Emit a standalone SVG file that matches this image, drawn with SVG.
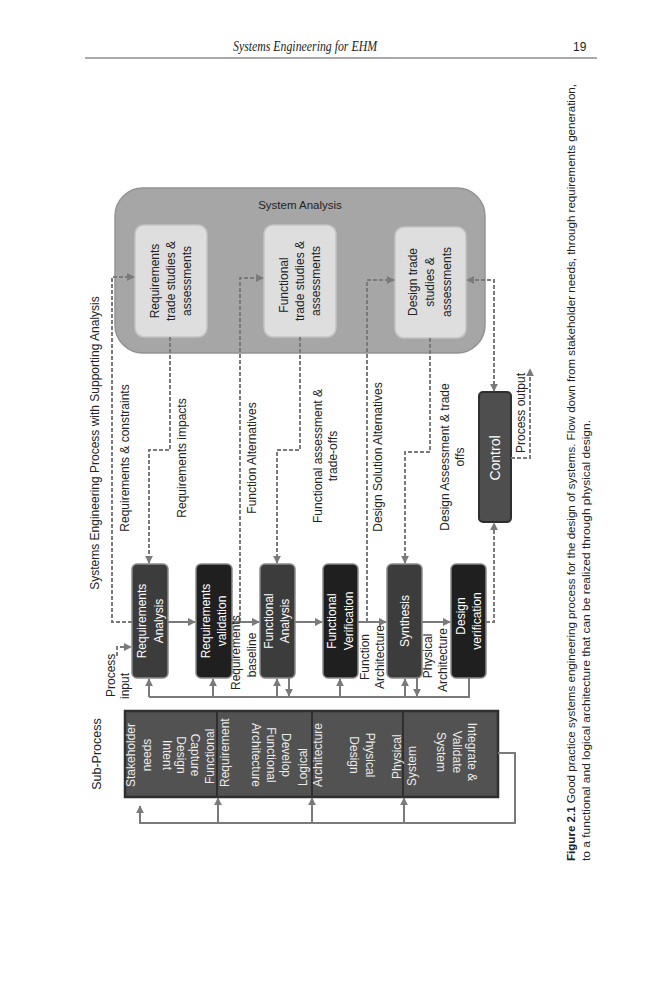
<svg xmlns="http://www.w3.org/2000/svg" width="666" height="1000" viewBox="0 0 666 1000">
<style>
.t{font-family:'Liberation Sans',Arial,sans-serif;font-size:12px;fill:#222;text-anchor:middle;dominant-baseline:central}
.s{text-anchor:start}
.w{fill:#fff}
.lt{fill:#ececec}
.dash{fill:none;stroke:#7a7a7a;stroke-width:2;stroke-dasharray:4 2}
.sol{fill:none;stroke:#7a7a7a;stroke-width:2}
.fb{stroke:#8a8a8a;stroke-width:1.5}
.ib{fill:#dedede;stroke:#c4c4c4;stroke-width:1.5}
</style>
<defs>
<marker id="ah" viewBox="0 0 10 10" refX="9" refY="5" markerWidth="8" markerHeight="8" markerUnits="userSpaceOnUse" orient="auto-start-reverse"><path d="M0,0 L10,5 L0,10 z" fill="#7a7a7a"/></marker>
</defs>
<rect width="666" height="1000" fill="#fff"/>

<g id="header">
<text x="233" y="51" font-family="'Liberation Serif',serif" font-style="italic" font-size="15" fill="#222" textLength="144" lengthAdjust="spacingAndGlyphs">Systems Engineering for EHM</text>
<text x="573" y="51" font-family="'Liberation Sans',sans-serif" font-size="12" fill="#222">19</text>
<line x1="85" y1="58" x2="597" y2="58" stroke="#555" stroke-width="1"/>
</g>

<g id="titles">
<text class="t" transform="rotate(-90 95 443)" x="95" y="443">Systems Engineering Process with Supporting Analysis</text>
<text class="t" transform="rotate(-90 97 754)" x="97" y="754" style="font-size:12.5px">Sub-Process</text>
</g>

<g id="system-analysis">
<rect x="115" y="188" width="370" height="165" rx="28" fill="#a6a6a6" stroke="#939393" stroke-width="1.5"/>
<text class="t" x="300" y="205" style="font-size:11.5px">System Analysis</text>
</g>

<g id="req-trade">
<rect class="ib" x="135" y="225" width="72" height="112" rx="9"/>
<text class="t" transform="rotate(-90 155 281)" x="155" y="281">Requirements</text>
<text class="t" transform="rotate(-90 171 281)" x="171" y="281">trade studies &amp;</text>
<text class="t" transform="rotate(-90 187 281)" x="187" y="281">assessments</text>
</g>
<g id="func-trade">
<rect class="ib" x="264" y="225" width="72" height="112" rx="9"/>
<text class="t" transform="rotate(-90 284 285)" x="284" y="285">Functional</text>
<text class="t" transform="rotate(-90 300 281)" x="300" y="281">trade studies &amp;</text>
<text class="t" transform="rotate(-90 316 281)" x="316" y="281">assessments</text>
</g>
<g id="design-trade">
<rect class="ib" x="395" y="227" width="71" height="111" rx="9"/>
<text class="t" transform="rotate(-90 413 282)" x="413" y="282">Design trade</text>
<text class="t" transform="rotate(-90 430 282)" x="430" y="282">studies &amp;</text>
<text class="t" transform="rotate(-90 447 282)" x="447" y="282">assessments</text>
</g>

<g id="control">
<rect x="479" y="392" width="32" height="130" rx="4" fill="#4e4e4e" stroke="#2e2e2e" stroke-width="2"/>
<text class="t w" transform="rotate(-90 495 458)" x="495" y="458" style="font-size:14px">Control</text>
</g>

<g id="req-analysis">
<rect class="fb" x="132" y="564" width="36" height="114" rx="5" fill="#3c3c3c"/>
<text class="t w" transform="rotate(-90 142 621)" x="142" y="621">Requirements</text>
<text class="t w" transform="rotate(-90 159 621)" x="159" y="621">Analysis</text>
</g>
<g id="req-validation">
<rect class="fb" x="196" y="564" width="36" height="114" rx="5" fill="#1f1f1f"/>
<text class="t w" transform="rotate(-90 206 621)" x="206" y="621">Requirements</text>
<text class="t w" transform="rotate(-90 222 621)" x="222" y="621">validation</text>
</g>
<g id="func-analysis">
<rect class="fb" x="260" y="564" width="35" height="114" rx="5" fill="#3c3c3c"/>
<text class="t w" transform="rotate(-90 269 621)" x="269" y="621">Functional</text>
<text class="t w" transform="rotate(-90 285 621)" x="285" y="621">Analysis</text>
</g>
<g id="func-verification">
<rect class="fb" x="323" y="564" width="35" height="114" rx="5" fill="#1f1f1f"/>
<text class="t w" transform="rotate(-90 332 621)" x="332" y="621">Functional</text>
<text class="t w" transform="rotate(-90 349 621)" x="349" y="621">Verification</text>
</g>
<g id="synthesis">
<rect class="fb" x="387" y="564" width="35" height="114" rx="5" fill="#3c3c3c"/>
<text class="t w" transform="rotate(-90 405 621)" x="405" y="621">Synthesis</text>
</g>
<g id="design-verification">
<rect class="fb" x="451" y="564" width="35" height="114" rx="5" fill="#1f1f1f"/>
<text class="t w" transform="rotate(-90 461 616)" x="461" y="616">Design</text>
<text class="t w" transform="rotate(-90 477 621)" x="477" y="621">verification</text>
</g>

<g id="sub-process">
<rect x="125" y="711" width="373" height="86" fill="#525252" stroke="#2f2f2f" stroke-width="2.5"/>
<line x1="217" y1="711" x2="217" y2="797" stroke="#2f2f2f" stroke-width="2"/>
<line x1="312" y1="711" x2="312" y2="797" stroke="#2f2f2f" stroke-width="2"/>
<line x1="403" y1="711" x2="403" y2="797" stroke="#2f2f2f" stroke-width="2"/>
<text class="t lt" transform="rotate(-90 131 755)" x="131" y="755">Stakeholder</text>
<text class="t lt" transform="rotate(-90 147 755)" x="147" y="755">needs</text>
<text class="t lt" transform="rotate(90 195 755)" x="195" y="755">Capture</text>
<text class="t lt" transform="rotate(90 181 755)" x="181" y="755">Design</text>
<text class="t lt" transform="rotate(90 167 755)" x="167" y="755">Intent</text>
<text class="t lt s" transform="rotate(-90 210 784)" x="210" y="784">Functional</text>
<text class="t lt s" transform="rotate(-90 225 787)" x="225" y="787">Requirement</text>
<text class="t lt" transform="rotate(90 286 755)" x="286" y="755">Develop</text>
<text class="t lt" transform="rotate(90 271 755)" x="271" y="755">Functional</text>
<text class="t lt" transform="rotate(90 256 755)" x="256" y="755">Architecture</text>
<text class="t lt s" transform="rotate(-90 303 786)" x="303" y="786">Logical</text>
<text class="t lt s" transform="rotate(-90 318 787)" x="318" y="787">Architecture</text>
<text class="t lt" transform="rotate(90 370 755)" x="370" y="755">Physical</text>
<text class="t lt" transform="rotate(90 354 755)" x="354" y="755">Design</text>
<text class="t lt s" transform="rotate(-90 397 779)" x="397" y="779">Physical</text>
<text class="t lt s" transform="rotate(-90 412 786)" x="412" y="786">System</text>
<text class="t lt" transform="rotate(90 472 752)" x="472" y="752">Integrate &amp;</text>
<text class="t lt" transform="rotate(90 457 752)" x="457" y="752">Validate</text>
<text class="t lt" transform="rotate(90 441 752)" x="441" y="752">System</text>
</g>

<g id="connectors">
<path class="sol" d="M168,622 H195" marker-end="url(#ah)"/>
<path class="sol" d="M232,622 H259" marker-end="url(#ah)"/>
<path class="sol" d="M295,622 H322" marker-end="url(#ah)"/>
<path class="sol" d="M358,622 H386" marker-end="url(#ah)"/>
<path class="sol" d="M422,622 H450" marker-end="url(#ah)"/>
<path class="sol" d="M469,678 V697 H149"/>
<path class="sol" d="M149,697 V679" marker-end="url(#ah)"/>
<path class="sol" d="M213,697 V679" marker-end="url(#ah)"/>
<path class="sol" d="M277,697 V679" marker-end="url(#ah)"/>
<path class="sol" d="M340,697 V679" marker-end="url(#ah)"/>
<path class="sol" d="M405,697 V679" marker-end="url(#ah)"/>
<path class="sol" d="M289,678 V696" marker-end="url(#ah)"/>
<path class="sol" d="M417,678 V696" marker-end="url(#ah)"/>
<path class="sol" d="M498,753 H515 V823 H140 V806" marker-end="url(#ah)"/>
<path class="sol" d="M218,823 V798" marker-end="url(#ah)"/>
<path class="sol" d="M312,823 V798" marker-end="url(#ah)"/>
<path class="sol" d="M404,823 V798" marker-end="url(#ah)"/>
<path class="dash" d="M117,656 V647 H131" marker-end="url(#ah)"/>
<path class="dash" d="M132,622 H112 V277 H134" marker-end="url(#ah)"/>
<path class="dash" d="M170,337 V450 H149 V563" marker-end="url(#ah)"/>
<path class="dash" d="M240,622 V278 H263" marker-end="url(#ah)"/>
<path class="dash" d="M300,337 V450 H277 V563" marker-end="url(#ah)"/>
<path class="dash" d="M367,622 V280 H394" marker-end="url(#ah)"/>
<path class="dash" d="M430,338 V452 H405 V563" marker-end="url(#ah)"/>
<path class="dash" d="M486,622 H494 V523" marker-end="url(#ah)"/>
<path class="dash" d="M494,391 V280 H467" marker-start="url(#ah)" marker-end="url(#ah)"/>
<path class="dash" d="M511,458 H530 V369" marker-end="url(#ah)"/>
<text class="t" transform="rotate(-90 125 458)" x="125" y="458">Requirements &amp; constraints</text>
<text class="t" transform="rotate(-90 182 458)" x="182" y="458">Requirements impacts</text>
<text class="t" transform="rotate(-90 252 458)" x="252" y="458">Function Alternatives</text>
<text class="t" transform="rotate(-90 318 456)" x="318" y="456">Functional assessment &amp;</text>
<text class="t" transform="rotate(-90 333 456)" x="333" y="456">trade-offs</text>
<text class="t" transform="rotate(-90 378 457)" x="378" y="457">Design Solution Alternatives</text>
<text class="t" transform="rotate(-90 445 457)" x="445" y="457">Design Assessment &amp; trade</text>
<text class="t" transform="rotate(-90 460 457)" x="460" y="457">offs</text>
<text class="t" transform="rotate(-90 521 413)" x="521" y="413">Process output</text>
<text class="t s" transform="rotate(-90 111 697)" x="111" y="697">Process</text>
<text class="t s" transform="rotate(-90 125 699)" x="125" y="699">input</text>
<text class="t s" transform="rotate(-90 236 690)" x="236" y="690">Requirements</text>
<text class="t" transform="rotate(-90 252 655)" x="252" y="655">baseline</text>
<text class="t" transform="rotate(-90 365 657)" x="365" y="657">Function</text>
<text class="t" transform="rotate(-90 380 657)" x="380" y="657">Architecture</text>
<text class="t" transform="rotate(-90 428 656)" x="428" y="656">Physical</text>
<text class="t" transform="rotate(-90 443 660)" x="443" y="660">Architecture</text>
</g>

<g id="caption">
<text class="t s" transform="rotate(-90 571 861)" x="571" y="861" style="font-size:11.5px" textLength="777" lengthAdjust="spacingAndGlyphs"><tspan font-weight="bold">Figure 2.1</tspan>   Good practice systems engineering process for the design of systems. Flow down from stakeholder needs, through requirements generation,</text>
<text class="t s" transform="rotate(-90 586 861)" x="586" y="861" style="font-size:11.5px" textLength="441" lengthAdjust="spacingAndGlyphs">to a functional and logical architecture that can be realized through physical design.</text>
</g>
</svg>
